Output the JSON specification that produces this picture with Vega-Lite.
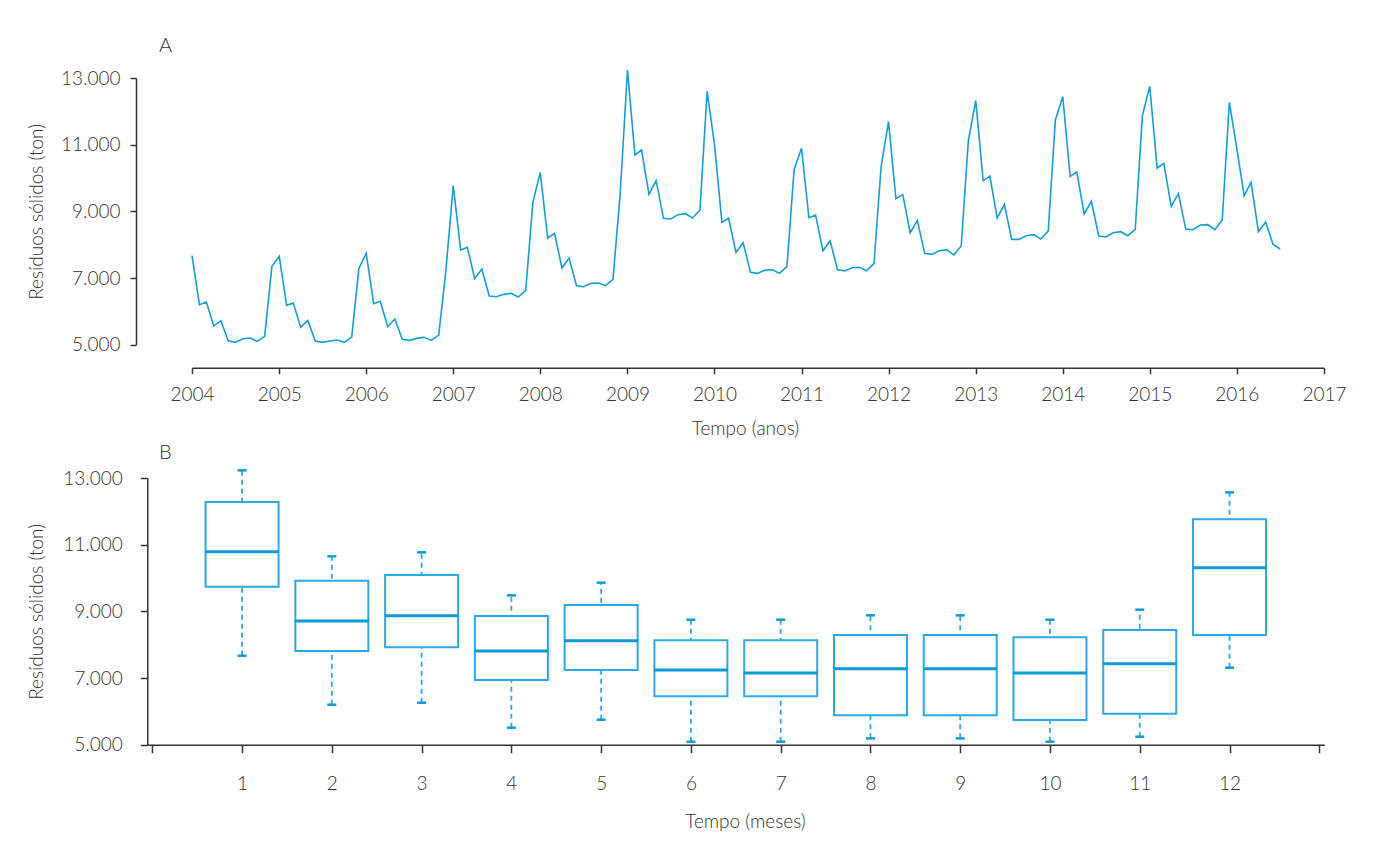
{
  "$schema": "https://vega.github.io/schema/vega-lite/v6.json",
  "padding": {"left": 27, "top": 35, "right": 10, "bottom": 10},
  "background": "white",
  "bounds": "full",
  "spacing": 4,
  "config": {
    "font": "Lato",
    "view": {"stroke": null},
    "axis": {
      "labelFont": "Lato", "labelFontWeight": 300, "labelFontSize": 19, "labelColor": "#333333",
      "titleFont": "Lato", "titleFontWeight": 300, "titleFontSize": 19, "titleColor": "#333333",
      "domainColor": "#333333", "domainWidth": 1.5, "tickColor": "#333333", "tickWidth": 1.5,
      "grid": false
    },
    "title": {"font": "Lato", "fontWeight": 300, "fontSize": 20, "color": "#333333", "anchor": "start", "frame": "group"}
  },
  "datasets": {
    "series": [
      {"date": "2004-01-01", "ton": 7670}, {"date": "2004-02-01", "ton": 6200}, {"date": "2004-03-01", "ton": 6280}, {"date": "2004-04-01", "ton": 5560}, {"date": "2004-05-01", "ton": 5720}, {"date": "2004-06-01", "ton": 5120}, {"date": "2004-07-01", "ton": 5070}, {"date": "2004-08-01", "ton": 5180}, {"date": "2004-09-01", "ton": 5200}, {"date": "2004-10-01", "ton": 5100}, {"date": "2004-11-01", "ton": 5250}, {"date": "2004-12-01", "ton": 7350},
      {"date": "2005-01-01", "ton": 7650}, {"date": "2005-02-01", "ton": 6180}, {"date": "2005-03-01", "ton": 6250}, {"date": "2005-04-01", "ton": 5520}, {"date": "2005-05-01", "ton": 5730}, {"date": "2005-06-01", "ton": 5110}, {"date": "2005-07-01", "ton": 5070}, {"date": "2005-08-01", "ton": 5110}, {"date": "2005-09-01", "ton": 5140}, {"date": "2005-10-01", "ton": 5070}, {"date": "2005-11-01", "ton": 5230}, {"date": "2005-12-01", "ton": 7290},
      {"date": "2006-01-01", "ton": 7740}, {"date": "2006-02-01", "ton": 6230}, {"date": "2006-03-01", "ton": 6300}, {"date": "2006-04-01", "ton": 5540}, {"date": "2006-05-01", "ton": 5770}, {"date": "2006-06-01", "ton": 5160}, {"date": "2006-07-01", "ton": 5130}, {"date": "2006-08-01", "ton": 5190}, {"date": "2006-09-01", "ton": 5220}, {"date": "2006-10-01", "ton": 5130}, {"date": "2006-11-01", "ton": 5290}, {"date": "2006-12-01", "ton": 7220},
      {"date": "2007-01-01", "ton": 9770}, {"date": "2007-02-01", "ton": 7840}, {"date": "2007-03-01", "ton": 7920}, {"date": "2007-04-01", "ton": 6980}, {"date": "2007-05-01", "ton": 7270}, {"date": "2007-06-01", "ton": 6460}, {"date": "2007-07-01", "ton": 6440}, {"date": "2007-08-01", "ton": 6510}, {"date": "2007-09-01", "ton": 6540}, {"date": "2007-10-01", "ton": 6430}, {"date": "2007-11-01", "ton": 6630}, {"date": "2007-12-01", "ton": 9270},
      {"date": "2008-01-01", "ton": 10170}, {"date": "2008-02-01", "ton": 8200}, {"date": "2008-03-01", "ton": 8340}, {"date": "2008-04-01", "ton": 7300}, {"date": "2008-05-01", "ton": 7600}, {"date": "2008-06-01", "ton": 6770}, {"date": "2008-07-01", "ton": 6740}, {"date": "2008-08-01", "ton": 6840}, {"date": "2008-09-01", "ton": 6850}, {"date": "2008-10-01", "ton": 6770}, {"date": "2008-11-01", "ton": 6960}, {"date": "2008-12-01", "ton": 9500},
      {"date": "2009-01-01", "ton": 13240}, {"date": "2009-02-01", "ton": 10690}, {"date": "2009-03-01", "ton": 10840}, {"date": "2009-04-01", "ton": 9510}, {"date": "2009-05-01", "ton": 9920}, {"date": "2009-06-01", "ton": 8790}, {"date": "2009-07-01", "ton": 8770}, {"date": "2009-08-01", "ton": 8900}, {"date": "2009-09-01", "ton": 8930}, {"date": "2009-10-01", "ton": 8800}, {"date": "2009-11-01", "ton": 9040}, {"date": "2009-12-01", "ton": 12600},
      {"date": "2010-01-01", "ton": 11000}, {"date": "2010-02-01", "ton": 8670}, {"date": "2010-03-01", "ton": 8800}, {"date": "2010-04-01", "ton": 7770}, {"date": "2010-05-01", "ton": 8060}, {"date": "2010-06-01", "ton": 7170}, {"date": "2010-07-01", "ton": 7140}, {"date": "2010-08-01", "ton": 7240}, {"date": "2010-09-01", "ton": 7250}, {"date": "2010-10-01", "ton": 7140}, {"date": "2010-11-01", "ton": 7350}, {"date": "2010-12-01", "ton": 10250},
      {"date": "2011-01-01", "ton": 10890}, {"date": "2011-02-01", "ton": 8810}, {"date": "2011-03-01", "ton": 8890}, {"date": "2011-04-01", "ton": 7820}, {"date": "2011-05-01", "ton": 8120}, {"date": "2011-06-01", "ton": 7250}, {"date": "2011-07-01", "ton": 7210}, {"date": "2011-08-01", "ton": 7310}, {"date": "2011-09-01", "ton": 7320}, {"date": "2011-10-01", "ton": 7220}, {"date": "2011-11-01", "ton": 7430}, {"date": "2011-12-01", "ton": 10340},
      {"date": "2012-01-01", "ton": 11690}, {"date": "2012-02-01", "ton": 9380}, {"date": "2012-03-01", "ton": 9500}, {"date": "2012-04-01", "ton": 8360}, {"date": "2012-05-01", "ton": 8720}, {"date": "2012-06-01", "ton": 7740}, {"date": "2012-07-01", "ton": 7710}, {"date": "2012-08-01", "ton": 7820}, {"date": "2012-09-01", "ton": 7850}, {"date": "2012-10-01", "ton": 7690}, {"date": "2012-11-01", "ton": 7960}, {"date": "2012-12-01", "ton": 11120},
      {"date": "2013-01-01", "ton": 12320}, {"date": "2013-02-01", "ton": 9920}, {"date": "2013-03-01", "ton": 10060}, {"date": "2013-04-01", "ton": 8800}, {"date": "2013-05-01", "ton": 9210}, {"date": "2013-06-01", "ton": 8160}, {"date": "2013-07-01", "ton": 8160}, {"date": "2013-08-01", "ton": 8270}, {"date": "2013-09-01", "ton": 8300}, {"date": "2013-10-01", "ton": 8170}, {"date": "2013-11-01", "ton": 8410}, {"date": "2013-12-01", "ton": 11740},
      {"date": "2014-01-01", "ton": 12440}, {"date": "2014-02-01", "ton": 10050}, {"date": "2014-03-01", "ton": 10180}, {"date": "2014-04-01", "ton": 8920}, {"date": "2014-05-01", "ton": 9300}, {"date": "2014-06-01", "ton": 8260}, {"date": "2014-07-01", "ton": 8230}, {"date": "2014-08-01", "ton": 8360}, {"date": "2014-09-01", "ton": 8390}, {"date": "2014-10-01", "ton": 8270}, {"date": "2014-11-01", "ton": 8460}, {"date": "2014-12-01", "ton": 11870},
      {"date": "2015-01-01", "ton": 12750}, {"date": "2015-02-01", "ton": 10300}, {"date": "2015-03-01", "ton": 10440}, {"date": "2015-04-01", "ton": 9150}, {"date": "2015-05-01", "ton": 9530}, {"date": "2015-06-01", "ton": 8470}, {"date": "2015-07-01", "ton": 8450}, {"date": "2015-08-01", "ton": 8590}, {"date": "2015-09-01", "ton": 8600}, {"date": "2015-10-01", "ton": 8450}, {"date": "2015-11-01", "ton": 8740}, {"date": "2015-12-01", "ton": 12270},
      {"date": "2016-01-01", "ton": 10900}, {"date": "2016-02-01", "ton": 9470}, {"date": "2016-03-01", "ton": 9870}, {"date": "2016-04-01", "ton": 8390}, {"date": "2016-05-01", "ton": 8680}, {"date": "2016-06-01", "ton": 8010}, {"date": "2016-07-01", "ton": 7870}
    ],
    "boxes": [
      {"mes": 1, "lo": 7670, "q1": 9740, "med": 10790, "q3": 12280, "hi": 13230},
      {"mes": 2, "lo": 6200, "q1": 7810, "med": 8710, "q3": 9920, "hi": 10650},
      {"mes": 3, "lo": 6260, "q1": 7920, "med": 8870, "q3": 10090, "hi": 10770},
      {"mes": 4, "lo": 5510, "q1": 6940, "med": 7810, "q3": 8860, "hi": 9480},
      {"mes": 5, "lo": 5750, "q1": 7240, "med": 8120, "q3": 9190, "hi": 9860},
      {"mes": 6, "lo": 5090, "q1": 6450, "med": 7240, "q3": 8130, "hi": 8750},
      {"mes": 7, "lo": 5090, "q1": 6450, "med": 7150, "q3": 8130, "hi": 8750},
      {"mes": 8, "lo": 5190, "q1": 5880, "med": 7280, "q3": 8290, "hi": 8880},
      {"mes": 9, "lo": 5190, "q1": 5880, "med": 7280, "q3": 8290, "hi": 8880},
      {"mes": 10, "lo": 5090, "q1": 5740, "med": 7150, "q3": 8220, "hi": 8750},
      {"mes": 11, "lo": 5240, "q1": 5930, "med": 7430, "q3": 8440, "hi": 9050},
      {"mes": 12, "lo": 7310, "q1": 8290, "med": 10310, "q3": 11760, "hi": 12570}
    ]
  },
  "vconcat": [
    {
      "width": 1132,
      "height": 266.7,
      "title": {"text": "A", "dx": -33, "offset": 11},
      "data": {"name": "series"},
      "mark": {"type": "line", "color": "#129fd9", "strokeWidth": 1.6, "clip": false},
      "encoding": {
        "x": {
          "field": "date", "type": "temporal",
          "scale": {"type": "utc", "domain": ["2004-01-01", "2017-01-01"], "nice": false},
          "axis": {"title": "Tempo (anos)", "titleX": 553, "format": "%Y", "tickCount": {"interval": "year", "step": 1}, "offset": 23, "tickSize": 6, "labelPadding": 12, "titlePadding": 15, "labelFlush": false}
        },
        "y": {
          "field": "ton", "type": "quantitative",
          "scale": {"domain": [5000, 13000], "nice": false, "zero": false},
          "axis": {"title": "Resíduos sólidos (ton)", "values": [5000, 7000, 9000, 11000, 13000], "labelExpr": "replace(format(datum.value, ','), ',', '.')", "offset": 56, "tickSize": 6, "labelPadding": 10, "titlePadding": 14}
        }
      }
    },
    {
      "width": 1132,
      "height": 266.7,
      "title": {"text": "B", "dx": -33, "offset": 6},
      "data": {"name": "boxes"},
      "layer": [
        {
          "mark": {"type": "rule", "color": "#29aae2", "strokeWidth": 1.8, "strokeDash": [5, 4]},
          "encoding": {
            "x": {
              "field": "mes", "type": "quantitative",
              "scale": {"domain": [0, 13], "nice": false, "zero": false, "range": [-44.7, 1132.3]},
              "axis": {"title": "Tempo (meses)", "titleX": 553, "format": "d", "values": [0, 1, 2, 3, 4, 5, 6, 7, 8, 9, 10, 11, 12, 13], "labelExpr": "datum.value == 0 || datum.value == 13 ? '' : datum.label", "tickSize": 8, "labelPadding": 22, "titlePadding": 19, "labelFlush": false}
            },
            "y": {"field": "lo", "type": "quantitative", "scale": {"domain": [5000, 13000], "nice": false, "zero": false},
              "axis": {"title": "Resíduos sólidos (ton)", "values": [5000, 7000, 9000, 11000, 13000], "labelExpr": "replace(format(datum.value, ','), ',', '.')", "offset": 44.7, "tickSize": 7, "labelPadding": 18, "titlePadding": 16}},
            "y2": {"field": "hi"}
          }
        },
        {
          "mark": {"type": "bar", "size": 73, "fill": "white", "stroke": "#29aae2", "strokeWidth": 2},
          "encoding": {
            "x": {"field": "mes", "type": "quantitative"},
            "y": {"field": "q1", "type": "quantitative"},
            "y2": {"field": "q3"}
          }
        },
        {
          "mark": {"type": "tick", "orient": "horizontal", "size": 74, "thickness": 3, "color": "#0b9bd6", "opacity": 1},
          "encoding": {
            "x": {"field": "mes", "type": "quantitative"},
            "y": {"field": "med", "type": "quantitative"}
          }
        },
        {
          "mark": {"type": "tick", "orient": "horizontal", "size": 9, "thickness": 2.5, "color": "#0b9bd6", "opacity": 1},
          "encoding": {
            "x": {"field": "mes", "type": "quantitative"},
            "y": {"field": "lo", "type": "quantitative"}
          }
        },
        {
          "mark": {"type": "tick", "orient": "horizontal", "size": 9, "thickness": 2.5, "color": "#0b9bd6", "opacity": 1},
          "encoding": {
            "x": {"field": "mes", "type": "quantitative"},
            "y": {"field": "hi", "type": "quantitative"}
          }
        }
      ]
    }
  ]
}
